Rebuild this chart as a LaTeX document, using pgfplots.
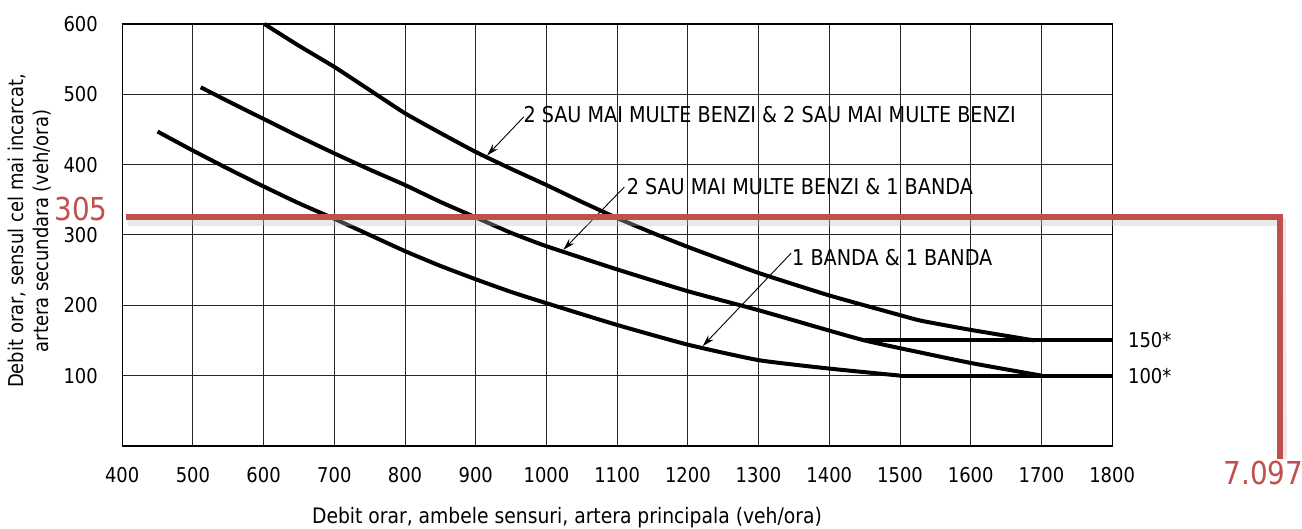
\documentclass[border=0pt]{standalone}
\usepackage{fontspec}
\setmainfont{DejaVu Sans}[FakeStretch=0.88]
\usepackage{pgfplots}
\pgfplotsset{compat=1.18}
\usetikzlibrary{arrows.meta}
\definecolor{annred}{RGB}{192,80,77}

\pgfplotstableread{
x y
601 600
650 569
700 539
750 506
800 473
850 445
900 418
950 394
1000 371
1050 347
1100 324
1150 303
1200 283
1300 246
1400 214
1500 186
1530 178
1600 165
1690 150
}\toptwo
\pgfplotstableread{
x y
511 510
550 490
600 465
650 440
700 416
750 393
800 371
850 347
900 325
950 303
1000 284
1100 251
1200 220
1300 193
1400 164
1450 150
1500 139
1600 118
1700 100
}\midtwo
\pgfplotstableread{
x y
450 447
500 420
550 394
600 369
650 345
700 323
750 300
800 277
850 256
900 237
950 219
1000 203
1100 172
1200 144
1300 122
1400 110
1500 100
}\botone

\begin{document}
\begin{tikzpicture}
\begin{axis}[
  scale only axis, width=495pt, height=211pt,
  xmin=400, xmax=1800, ymin=0, ymax=600,
  xtick={400,500,...,1800}, ytick={100,200,...,600},
  grid=major, major grid style={black!85, line width=0.5pt},
  axis line style={black, line width=0.6pt},
  major tick length=0pt,
  /pgf/number format/1000 sep={},
  /pgf/number format/assume math mode=true,
  tick label style={font=\fontsize{10.2}{12}\selectfont, inner sep=0pt},
  xticklabel style={anchor=center, yshift=-14.5pt},
  yticklabel style={anchor=east, xshift=-12pt},
  clip=false,
]
% curves
\addplot[black, line width=2pt, line join=round, smooth, tension=0.3] table {\toptwo};
\addplot[black, line width=2pt, line join=round, smooth, tension=0.3] table {\midtwo};
\addplot[black, line width=2pt, line join=round, smooth, tension=0.3] table {\botone};
\addplot[black, line width=2pt] coordinates {(1450,150) (1800,150)};
\addplot[black, line width=2pt] coordinates {(1500,100) (1800,100)};

% annotation arrows
\draw[black, line width=0.45pt, -{Stealth[length=6pt,width=3.5pt]}] (axis cs:968,468) -- (axis cs:916,413);
\draw[black, line width=0.45pt, -{Stealth[length=6pt,width=3.5pt]}] (axis cs:1110,368) -- (axis cs:1024,279);
\draw[black, line width=0.45pt, -{Stealth[length=6pt,width=3.5pt]}] (axis cs:1346,274) -- (axis cs:1221,142);

\node[anchor=west, inner sep=0pt, font=\fontsize{10.9}{12}\selectfont] at (axis cs:967,470.8) {2 SAU MAI MULTE BENZI \& 2 SAU MAI MULTE BENZI};
\node[anchor=west, inner sep=0pt, font=\fontsize{10.9}{12}\selectfont] at (axis cs:1113,368.8) {2 SAU MAI MULTE BENZI \& 1 BANDA};
\node[anchor=west, inner sep=0pt, font=\fontsize{10.9}{12}\selectfont] at (axis cs:1347,268.4) {1 BANDA \& 1 BANDA};

\node[anchor=west, inner sep=0pt, font=\fontsize{10.2}{12}\selectfont] at (axis cs:1822,150) {150*};
\node[anchor=west, inner sep=0pt, font=\fontsize{10.2}{12}\selectfont] at (axis cs:1822,100) {100*};

% axis labels
\node[rotate=90, align=center, inner sep=0pt, font=\fontsize{10.2}{12.5}\selectfont] at (axis cs:269,305.7)
  {Debit orar, sensul cel mai incarcat,\\artera secundara (veh/ora)};
\node[inner sep=0pt, font=\fontsize{10.65}{12}\selectfont] at (axis cs:1029,-102)
  {Debit orar, ambele sensuri, artera principala (veh/ora)};

% red annotation
\draw[gray!50, opacity=0.35, line width=3.5pt, line join=miter] ([xshift=1pt,yshift=-2.5pt]axis cs:405,325) -- ([xshift=1pt,yshift=-2.5pt]axis cs:2038,325) -- ([xshift=1.5pt]axis cs:2038,-19);
\draw[annred, line width=3pt, line join=miter] (axis cs:405,325) -- (axis cs:2038,325) -- (axis cs:2038,-19);
\node[anchor=east, inner sep=0pt, text=annred, font=\fontsize{15.8}{18}\selectfont] at (axis cs:380,336.4) {305};
\node[anchor=west, inner sep=0pt, text=annred, font=\fontsize{15.8}{18}\selectfont] at (axis cs:1957,-39) {7.097};

\coordinate (bl) at (axis cs:227.2,-118.0);
\coordinate (tr) at (axis cs:2068.5,634.1);
\end{axis}
\pgfresetboundingbox
\path[use as bounding box] (bl) rectangle (tr);
\end{tikzpicture}
\end{document}
